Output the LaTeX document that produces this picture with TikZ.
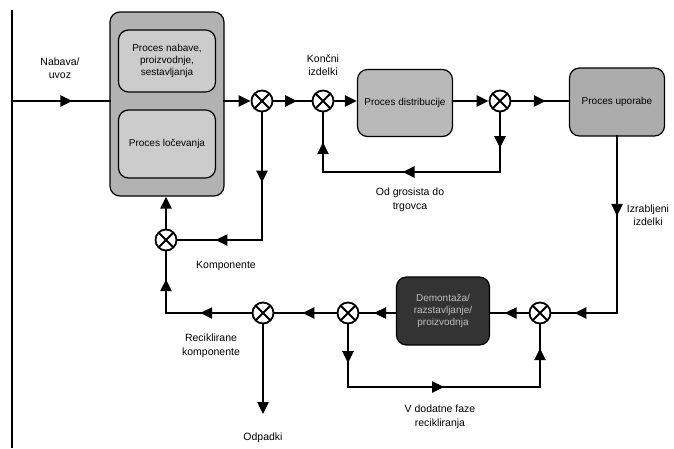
\documentclass[tikz,border=0pt]{standalone}
\usepackage{fontspec}
\setmainfont{Liberation Sans}
\usetikzlibrary{arrows.meta,decorations.markings}

\begin{document}
\begin{tikzpicture}[x=1pt,y=-1pt,
	proc/.style={draw,line width=1.2pt,rounded corners=10pt,align=center,font=\fontsize{10}{12}\selectfont},
	spoj/.style={draw,circle,line width=1.8pt,minimum size=21pt,inner sep=0pt,
		path picture={\draw[line width=1.8pt] (path picture bounding box.north west) -- (path picture bounding box.south east)
			(path picture bounding box.north east) -- (path picture bounding box.south west);}},
	tok/.style={line width=2.4pt,line cap=rect},
	pus/.style={decoration={markings,mark=at position #1 with {\arrow{Triangle[length=12pt,width=11pt]}}},postaction={decorate}},
	pus/.default=0.55,
	konec/.style={-{Triangle[length=12pt,width=11pt]}},
	oznaka/.style={align=center,font=\fontsize{10.5}{13.5}\selectfont}]
			%%%%% START %%%%%
			\useasboundingbox (0,0) rectangle (674,448);
			
			\draw[line width=1.5pt] (12,10) -- (12,448);
			
			% zgornja vrsta
			\coordinate (vhod) at (12,101);
			\node[proc,fill=gray!60,minimum width=114pt,minimum height=184pt] (obdelava) at (167,104) {};
			\node[proc,fill=gray!40,minimum width=97pt,minimum height=62pt] (nabava) at (167,61) {Proces nabave,\\ proizvodnje,\\ sestavljanja};
			\node[proc,fill=gray!40,minimum width=97pt,minimum height=68pt] (locevanje) at (167,144) {Proces ločevanja};
			
			\node[spoj] (x1) at (262,101) {};
			\node[spoj] (x2) at (323,101) {};
			\node[proc,fill=gray!55,minimum width=95pt,minimum height=67pt] (distribucija) at (405,103) {Proces distribucije};
			\node[spoj] (x3) at (500,101) {};
			\node[proc,fill=gray!65,minimum width=95pt,minimum height=68pt] (poraba) at (617,102) {Proces uporabe};
			
			% spodnja vrsta
			\node[spoj] (x0) at (166,240) {};
			\node[spoj] (x4) at (540,313) {};
			\node[proc,fill=black!80,text=gray!50,minimum width=93pt,minimum height=68pt] (demontaza) at (443,311) {Demontaža/\\ razstavljanje/\\ proizvodnja};
			\node[spoj] (x5) at (348,313) {};
			\node[spoj] (x6) at (263,313) {};
			
			\coordinate (z1) at (500,172);
			\coordinate (z2) at (323,172);
			\coordinate (z3) at (262,240);
			\coordinate (z4) at (166,313);
			\coordinate (z5) at (617,313);
			\coordinate (z6) at (348,387);
			\coordinate (z7) at (540,387);
			\coordinate (odpadki) at (263,414);
			
			% tokovi
			\draw[tok,pus=0.62] (vhod) -- (obdelava.west |- vhod);
			\draw[tok,konec] (obdelava.east |- x1) -- (x1);
			\draw[tok,pus=0.62] (x1) -- (x2);
			\draw[tok,konec] (x2) -- (distribucija.west |- x2);
			\draw[tok,konec] (distribucija.east |- x3) -- (x3);
			\draw[tok,pus=0.6] (x3) -- (poraba.west |- x3);
			
			\draw[tok,pus=0.6] (x3) -- (z1);
			\draw[tok,pus=0.55] (z1) -- (z2);
			\draw[tok,pus=0.5] (z2) -- (x2);
			
			\draw[tok,pus=0.55] (x1) -- (z3);
			\draw[tok,pus=0.55] (z3) -- (x0);
			\draw[tok,konec] (x0) -- (obdelava.south -| x0);
			
			\draw[tok,pus=0.45] (poraba.south) -- (z5);
			\draw[tok,pus=0.65] (z5) -- (x4);
			\draw[tok,pus=0.62] (x4) -- (demontaza.east |- x4);
			\draw[tok,pus=0.6] (demontaza.west |- x5) -- (x5);
			\draw[tok,pus=0.55] (x5) -- (x6);
			\draw[tok,pus=0.6] (x6) -- (z4);
			\draw[tok,pus=0.55] (z4) -- (x0);
			
			\draw[tok,pus=0.62] (x5) -- (z6);
			\draw[tok,pus=0.5] (z6) -- (z7);
			\draw[tok,pus=0.62] (z7) -- (x4);
			\draw[tok,konec] (x6) -- (odpadki);
			
			% oznake
			\node[oznaka] (l1) at (60,68) {Nabava/\\ uvoz};
			\node[oznaka] (l2) at (323,65) {Končni\\ izdelki};
			\node[oznaka] (l3) at (410,200) {Od grosista do\\ trgovca};
			\node[oznaka] (l4) at (648,215) {Izrabljeni\\ izdelki};
			\node[oznaka] (l5) at (226,266) {Komponente};
			\node[oznaka] (l6) at (211,346) {Reciklirane\\ komponente};
			\node[oznaka] (l7) at (263,438) {Odpadki};
			\node[oznaka] (l8) at (440,417) {V dodatne faze\\ recikliranja};
			
			%%%%% END %%%%%
\end{tikzpicture}
\end{document}
